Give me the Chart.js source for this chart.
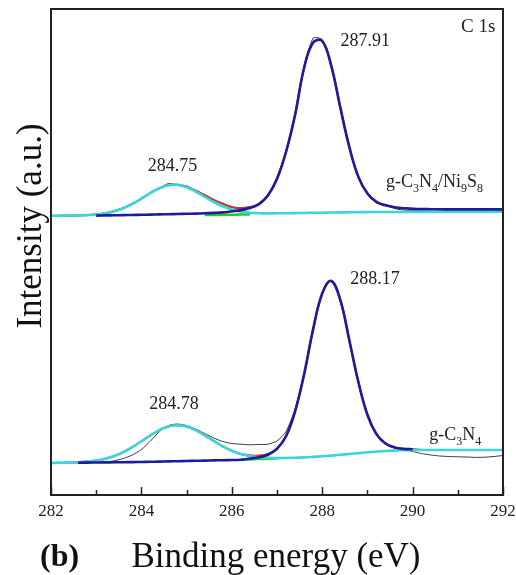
<!DOCTYPE html>
<html>
<head>
<meta charset="utf-8">
<script src="https://cdn.jsdelivr.net/npm/chart.js@4.4.1/dist/chart.umd.min.js"></script>
<style>
  html, body { margin: 0; padding: 0; background: #fff; }
  canvas { display: block; }
</style>
</head>
<body>
<canvas id="xps" width="516" height="575"></canvas>
<script>
// Binding energy grid (eV)
const energy = [
  282.0, 282.2, 282.4, 282.6, 282.8, 283.0, 283.2, 283.4, 283.6, 283.8,
  284.0, 284.2, 284.4, 284.6, 284.8, 285.0, 285.2, 285.4, 285.6, 285.8,
  286.0, 286.2, 286.4, 286.6, 286.8, 287.0, 287.2, 287.4, 287.6, 287.8,
  288.0, 288.2, 288.4, 288.6, 288.8, 289.0, 289.2, 289.4, 289.6, 289.8,
  290.0, 290.2, 290.4, 290.6, 290.8, 291.0, 291.2, 291.4, 291.6, 291.8, 292.0,
];

// g-C3N4/Ni9S8 (upper, offset trace)
const rawTop = [
  279.0, 279.6, 278.8, 279.5, 280.2, 280.9, 282.0, 284.5, 287.3, 291.8,
  296.0, 302.8, 307.0, 311.5, 310.0, 309.2, 304.0, 300.5, 294.6, 291.8,
  287.4, 287.2, 288.5, 290.0, 299.0, 317.5, 344.0, 379.0, 428.5, 457.0,
  455.5, 430.0, 387.0, 349.0, 317.5, 302.5, 292.0, 290.5, 286.5, 285.0,
  284.5, 283.8, 283.0, 282.6, 283.4, 282.4, 283.0, 282.8, 283.6, 283.2, 284.0,
];
const envTop = [
  279.3, 279.3, 279.5, 279.6, 279.9, 280.5, 281.7, 283.8, 286.8, 291.1,
  296.4, 302.0, 306.8, 309.7, 310.3, 308.3, 304.5, 299.8, 295.2, 291.2,
  288.0, 286.6, 287.5, 291.5, 300.0, 317.0, 343.5, 380.5, 427.3, 452.5,
  454.1, 429.3, 387.7, 348.1, 318.2, 301.6, 293.2, 289.8, 287.8, 286.9,
  286.3, 286.0, 285.9, 285.8, 285.7, 285.7, 285.7, 285.7, 285.7, 285.7, 285.7,
];
const peak2879 = [
  null, null, null, null, null, 279.4, 279.6, 279.7, 279.9, 280.0,
  280.2, 280.4, 280.6, 280.8, 281.0, 281.2, 281.4, 281.7, 282.1, 282.6,
  283.7, 284.9, 287.1, 290.8, 299.5, 316.0, 343.0, 380.0, 427.2, 452.4,
  454.0, 429.2, 387.6, 348.0, 318.1, 301.5, 293.1, 289.7, 287.7, 286.8,
  286.2, 285.9, 285.8, 285.7, 285.6, 285.6, 285.6, 285.6, 285.6, 285.6, 285.6,
];
const peak2847 = [
  279.3, 279.3, 279.5, 279.6, 279.9, 280.5, 281.7, 283.8, 286.8, 291.1,
  296.4, 302.0, 306.8, 309.7, 310.1, 307.8, 303.5, 298.2, 293.0, 288.7,
  285.5, 283.4, 282.3, 281.8, 281.6, 281.7, 281.7, 281.9, 282.0, 282.2,
  282.3, 282.5, 282.6, 282.7, 282.8, 282.9, 283.0, 283.0, 283.0, 283.0,
  283.1, 283.1, 283.1, 283.2, 283.2, 283.2, 283.3, 283.3, 283.3, 283.4, 283.4,
];
const minorTop = [
  null, null, null, null, null, null, null, null, null, null,
  null, null, null, null, null, null, null, 279.9, 280.0, 280.2,
  280.3, 280.4, 280.5, null, null, null, null, null, null, null,
  null, null, null, null, null, null, null, null, null, null,
  null, null, null, null, null, null, null, null, null, null, null,
];

// g-C3N4 (lower trace)
const rawBot = [
  32.5, 32.4, 32.6, 32.3, 32.5, 32.7, 33.0, 34.2, 36.5, 40.0,
  45.5, 54.0, 63.5, 69.5, 71.0, 69.5, 66.0, 61.5, 57.0, 53.5,
  51.5, 50.8, 50.2, 50.5, 50.8, 54.0, 63.5, 86.0, 121.5, 166.0,
  201.0, 214.5, 195.5, 155.0, 113.0, 80.0, 60.5, 51.0, 47.0, 45.5,
  43.5, 41.5, 40.0, 39.0, 38.5, 38.2, 38.0, 37.6, 37.8, 38.5, 39.5,
];
const envBot = [
  32.0, 32.2, 32.4, 32.8, 33.4, 34.5, 36.3, 39.0, 42.9, 47.9,
  53.7, 59.7, 64.9, 68.6, 69.8, 68.5, 64.8, 59.7, 54.1, 48.7,
  44.3, 41.0, 39.8, 39.4, 41.1, 46.5, 59.0, 83.7, 120.8, 165.9,
  201.5, 214.1, 195.1, 154.8, 113.1, 80.3, 60.9, 51.5, 47.6, 46.1,
  45.9, 45.0, 45.0, 45.0, 45.0, 45.0, 45.0, 45.0, 45.0, 45.0, 45.0,
];
const peak2882 = [
  null, null, null, 32.3, 32.4, 32.5, 32.6, 32.7, 32.8, 32.9,
  33.0, 33.2, 33.4, 33.6, 33.8, 34.0, 34.2, 34.4, 34.6, 34.8,
  35.0, 35.3, 36.5, 37.7, 40.2, 46.1, 58.7, 83.6, 120.7, 165.9,
  201.5, 214.1, 195.1, 154.8, 113.1, 80.3, 60.9, 51.5, 47.6, 46.1,
  45.8, null, null, null, null, null, null, null, null, null, null,
];
const peak2848 = [
  32.0, 32.2, 32.4, 32.8, 33.4, 34.5, 36.3, 39.0, 42.9, 47.9,
  53.7, 59.7, 64.9, 68.6, 69.8, 68.5, 64.8, 59.7, 54.1, 48.7,
  44.3, 41.0, 38.9, 37.6, 37.1, 36.9, 37.0, 37.3, 37.6, 38.1,
  38.7, 39.4, 40.2, 41.0, 41.9, 42.7, 43.4, 44.0, 44.4, 44.7,
  44.9, 45.0, 45.0, 45.0, 45.0, 45.0, 45.0, 45.0, 45.0, 45.0, 45.0,
];
const minorBot = [
  null, null, null, null, null, null, null, null, null, null,
  null, null, null, null, null, null, null, null, null, null,
  null, 35.3, 35.6, 35.9, 36.2, 36.5, null, null, null, null,
  null, null, null, null, null, null, null, null, null, null,
  null, null, null, null, null, null, null, null, null, null, null,
];

// Text on the plot
const peakLabels = ["287.91", "284.75", "288.17", "284.78"];
const panelLabel = "C 1s";
const sampleTop = [["g-C", 0], ["3", 1], ["N", 0], ["4", 1], ["/Ni", 0], ["9", 1], ["S", 0], ["8", 1]];
const sampleBot = [["g-C", 0], ["3", 1], ["N", 0], ["4", 1]];

const serif = "'Liberation Serif', 'Times New Roman', serif";
const colors = {
  raw: "#3a3a3a",
  env: "#d42a2a",
  blue: "#1c1c9c",
  cyan: "#3ad6d9",
  green: "#22cc22",
};

const toPoints = (ys) => energy.map((x, i) => ({ x, y: ys[i] }));

const line = (label, ys, color, width, order, tension) => ({
  label,
  data: toPoints(ys),
  borderColor: color,
  borderWidth: width,
  pointRadius: 0,
  fill: false,
  tension,
  order,
});

const datasets = [
  line("C-N=C fit", peak2879, colors.blue, 2.6, 1, 0.4),
  line("C-N=C fit (g-C3N4)", peak2882, colors.blue, 2.6, 1, 0.4),
  line("C-C fit", peak2847, colors.cyan, 2.6, 2, 0.4),
  line("C-C fit (g-C3N4)", peak2848, colors.cyan, 2.6, 2, 0.4),
  line("minor", minorTop, colors.green, 2.5, 3, 0.4),
  line("minor (g-C3N4)", minorBot, colors.green, 2.5, 3, 0.4),
  line("envelope", envTop, colors.env, 2, 4, 0.4),
  line("envelope (g-C3N4)", envBot, colors.env, 2, 4, 0.4),
  line("raw", rawTop, colors.raw, 1, 5, 0.2),
  line("raw (g-C3N4)", rawBot, colors.raw, 1, 5, 0.2),
];

// frame, inward ticks and all text
const decorations = {
  id: "decorations",
  afterDraw(chart) {
    const { ctx, chartArea: a, scales } = chart;
    const x = scales.x;
    const y = scales.y;
    ctx.save();

    ctx.strokeStyle = "#222";
    ctx.lineWidth = 2;
    ctx.strokeRect(a.left, a.top, a.right - a.left, a.bottom - a.top);

    ctx.lineWidth = 1.5;
    x.ticks.forEach((t) => {
      const px = Math.round(x.getPixelForValue(t.value)) + 0.5;
      const len = t.value % 2 === 0 ? 8 : 5;
      ctx.beginPath();
      ctx.moveTo(px, a.bottom);
      ctx.lineTo(px, a.bottom - len);
      ctx.stroke();
    });

    ctx.fillStyle = "#222";
    ctx.textAlign = "center";
    ctx.textBaseline = "middle";
    ctx.font = "18px " + serif;
    const spots = [
      [288.95, 453.5],
      [284.69, 329],
      [289.17, 216],
      [284.72, 91],
    ];
    peakLabels.forEach((txt, i) => {
      ctx.fillText(txt, x.getPixelForValue(spots[i][0]), y.getPixelForValue(spots[i][1]));
    });
    ctx.font = "19px " + serif;
    ctx.fillText(panelLabel, x.getPixelForValue(291.45), y.getPixelForValue(467.5));

    const subText = (parts, ex, iv) => {
      let px = x.getPixelForValue(ex);
      const base = y.getPixelForValue(iv);
      ctx.textAlign = "left";
      ctx.textBaseline = "alphabetic";
      parts.forEach(([s, sub]) => {
        ctx.font = (sub ? "12px " : "18px ") + serif;
        ctx.fillText(s, px, sub ? base + 5 : base);
        px += ctx.measureText(s).width;
      });
    };
    subText(sampleTop, 289.41, 308);
    subText(sampleBot, 290.37, 55);

    // axis titles
    ctx.fillStyle = "#111";
    ctx.textAlign = "center";
    ctx.textBaseline = "alphabetic";
    ctx.font = "35px " + serif;
    ctx.fillText("Binding energy (eV)", 276, 567);
    ctx.save();
    ctx.translate(41, 226);
    ctx.rotate(-Math.PI / 2);
    ctx.fillText("Intensity (a.u.)", 0, 0);
    ctx.restore();
    ctx.textAlign = "left";
    ctx.font = "bold 32px " + serif;
    ctx.fillText("(b)", 40, 566);

    ctx.restore();
  },
};

new Chart(document.getElementById("xps").getContext("2d"), {
  type: "line",
  data: { datasets },
  options: {
    responsive: false,
    animation: false,
    devicePixelRatio: 1,
    layout: {
      padding: { top: 9, right: 13, left: 51, bottom: 0 },
    },
    plugins: {
      legend: { display: false },
      tooltip: { enabled: false },
    },
    scales: {
      x: {
        type: "linear",
        min: 282,
        max: 292,
        grid: { display: false, drawTicks: false },
        border: { display: false },
        ticks: {
          stepSize: 1,
          autoSkip: false,
          maxRotation: 0,
          padding: 6,
          color: "#222",
          font: { family: serif, size: 17 },
          callback: (v) => (v % 2 === 0 ? v : ""),
        },
        afterFit: (scale) => {
          scale.height = 80;
          // let the end labels hang over the edges like the original
          scale.paddingLeft = 0;
          scale.paddingRight = 0;
        },
      },
      y: {
        display: false,
        min: 0,
        max: 486,
      },
    },
  },
  plugins: [decorations],
});
</script>
</body>
</html>
